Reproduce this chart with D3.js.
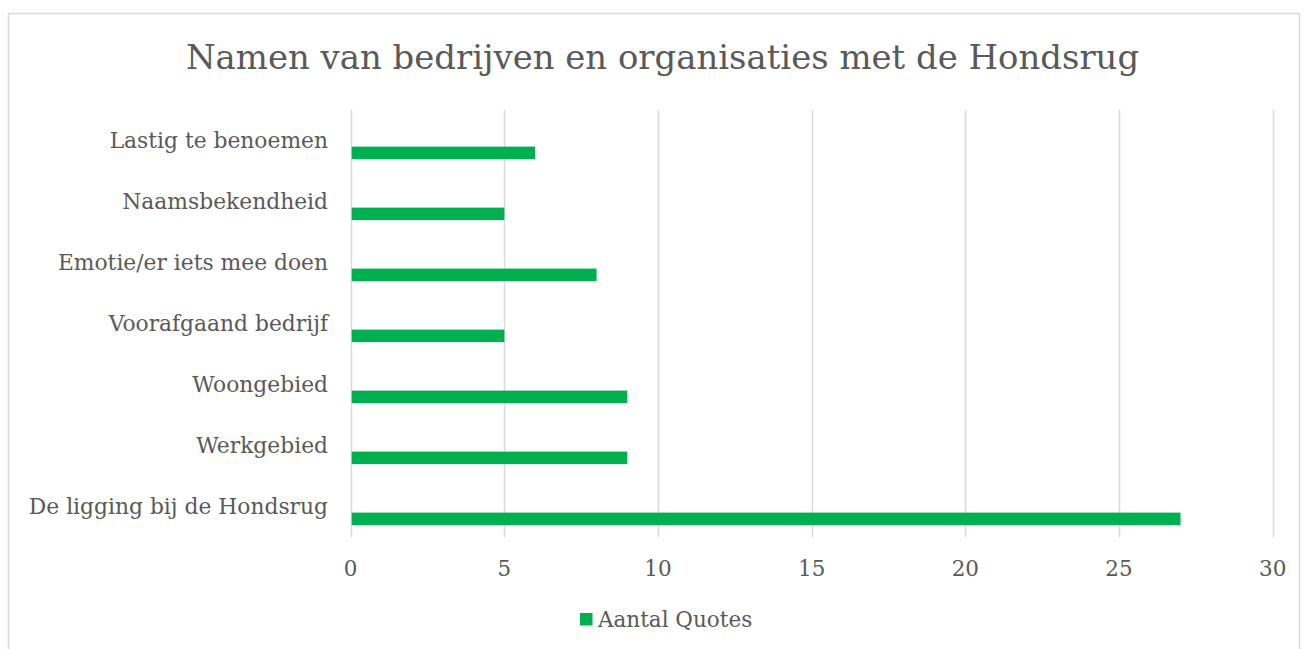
<!DOCTYPE html>
<html><head><meta charset="utf-8">
<script src="https://cdn.jsdelivr.net/npm/d3@7"></script>
<style>html,body{margin:0;padding:0;background:#fff;}svg{display:block;}</style>
</head><body>
<svg id="chart" width="1308" height="649"></svg>
<script>
const categories = ["Lastig te benoemen","Naamsbekendheid","Emotie/er iets mee doen","Voorafgaand bedrijf","Woongebied","Werkgebied","De ligging bij de Hondsrug"];
const values = [6,5,8,5,9,9,27];
const ticks = [0,5,10,15,20,25,30];
const seriesName = "Aantal Quotes";
const title = "Namen van bedrijven en organisaties met de Hondsrug";

const FONT = "'DejaVu Serif', serif";
const TXT = "#595959", GRID = "#d9d9d9", BAR = "#00b050";
const svg = d3.select("#chart");

svg.append("rect").attr("x",8.5).attr("y",13.5).attr("width",1291).attr("height",650)
  .attr("fill","#fff").attr("stroke",GRID).attr("stroke-width",1.5);

const m = {left:350.7, right:1272.7, top:110, bottom:537};
const x = d3.scaleLinear().domain([0,30]).range([m.left,m.right]);
const y = d3.scaleBand().domain(categories).range([m.top,m.bottom]).padding(0);
const bw = y.bandwidth();

svg.append("text").attr("x",662.5).attr("y",68.5).attr("text-anchor","middle")
  .attr("font-family",FONT).attr("font-size",33.9).attr("fill",TXT).text(title);

svg.append("g").selectAll("line").data(ticks).join("line")
  .attr("x1",d=>Math.round(x(d))+0.5).attr("x2",d=>Math.round(x(d))+0.5)
  .attr("y1",m.top).attr("y2",m.bottom).attr("stroke",GRID).attr("stroke-width",1.5);

svg.append("g").selectAll("rect").data(categories).join("rect")
  .attr("x",x(0)+1).attr("y",d=>y(d)+bw*0.6)
  .attr("width",(d,i)=>x(values[i])-x(0)-1).attr("height",bw*0.205)
  .attr("fill",BAR);

svg.append("g").selectAll("text").data(categories).join("text")
  .attr("x",328).attr("y",d=>y(d)+bw/2+7.5).attr("text-anchor","end")
  .attr("font-family",FONT).attr("font-size",21.8).attr("fill",TXT).text(d=>d);

svg.append("g").selectAll("text").data(ticks).join("text")
  .attr("x",d=>x(d)).attr("y",576).attr("text-anchor","middle")
  .attr("font-family",FONT).attr("font-size",21.5).attr("fill",TXT).text(d=>d);

svg.append("rect").attr("x",580).attr("y",613).attr("width",12.5).attr("height",12.5).attr("fill",BAR);
svg.append("text").attr("x",598).attr("y",626.5)
  .attr("font-family",FONT).attr("font-size",21.5).attr("fill",TXT).text(seriesName);
</script>
</body></html>
